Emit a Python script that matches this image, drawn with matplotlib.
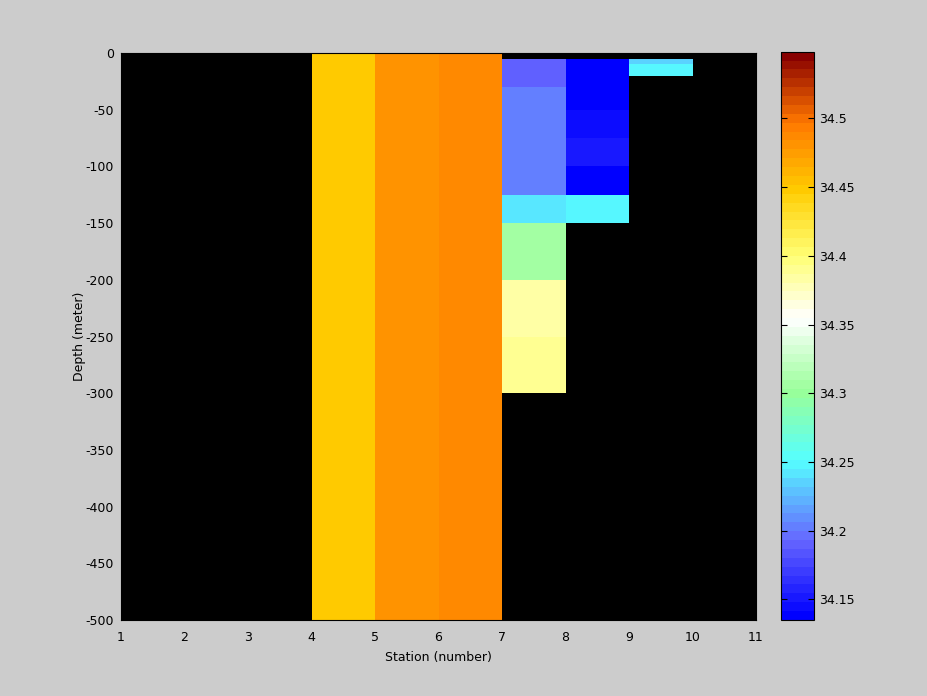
import numpy as np
import matplotlib
matplotlib.use("Agg")
import matplotlib.pyplot as plt
from matplotlib.colors import LinearSegmentedColormap, ListedColormap, Normalize

# station edges and depth edges (meters)
station_edges = [1, 2, 3, 4, 5, 6, 7, 8, 9, 10, 11]
depth_edges = [0, -5, -10, -20, -30, -50, -75, -100, -125, -150, -200, -250, -300, -400, -500]

nan = np.nan
# salinity per station column, one value per depth cell (top to bottom)
st1 = [nan] * 14
st2 = [nan] * 14
st3 = [nan] * 14
st4 = [34.447] * 14
st5 = [34.481] * 14
st6 = [34.488] * 14
st7 = [nan, 34.19, 34.19, 34.19, 34.20, 34.20, 34.20, 34.20, 34.239, 34.309, 34.386, 34.389, nan, nan]
st8 = [nan, 34.140, 34.140, 34.140, 34.140, 34.146, 34.153, 34.136, 34.25, nan, nan, nan, nan, nan]
st9 = [nan, 34.234, 34.25, nan, nan, nan, nan, nan, nan, nan, nan, nan, nan, nan]
st10 = [nan] * 14

clim = (34.135, 34.5485)
cbar_ticks = [34.15, 34.2, 34.25, 34.3, 34.35, 34.4, 34.45, 34.5]

# colormap anchors (value, colour)
anchors = [
    (34.135, "#0000ff"),
    (34.19, "#6666ff"),
    (34.25, "#55ffff"),
    (34.30, "#99ff99"),
    (34.355, "#ffffff"),
    (34.40, "#ffff77"),
    (34.45, "#ffcc00"),
    (34.50, "#ff7800"),
    (34.5485, "#880000"),
]

pos = [(v - clim[0]) / (clim[1] - clim[0]) for v, c in anchors]
pos[0], pos[-1] = 0.0, 1.0
smooth = LinearSegmentedColormap.from_list("sal", list(zip(pos, [c for v, c in anchors])))
cmap = ListedColormap(smooth(np.linspace(0, 1, 64)))
cmap.set_bad("black")

C = np.ma.masked_invalid(np.array([st1, st2, st3, st4, st5, st6, st7, st8, st9, st10]).T)

bg = "#cccccc"
plt.rcParams["font.family"] = ["DejaVu Sans"]
plt.rcParams["axes.unicode_minus"] = False
fig = plt.figure(figsize=(9.28, 6.96), dpi=100, facecolor=bg)
fs = 9

ax = fig.add_axes([121 / 928, 1 - 620 / 696, 635 / 928, 567 / 696])
ax.set_facecolor("black")
mesh = ax.pcolormesh(station_edges, depth_edges, C, cmap=cmap,
                     norm=Normalize(*clim), shading="flat")
ax.set_xlim(1, 11)
ax.set_ylim(-500, 0)
ax.set_xticks(station_edges)
ax.set_yticks(np.arange(-500, 1, 50))
ax.tick_params(axis="x", length=0, pad=8, labelsize=fs)
ax.tick_params(axis="y", length=0, pad=5, labelsize=fs)
ax.set_xlabel("Station (number)", fontsize=fs, labelpad=5)
ax.set_ylabel("Depth (meter)", fontsize=fs, labelpad=0)
for s in ax.spines.values():
    s.set_color("black")

cax = fig.add_axes([781.5 / 928, 1 - 620 / 696, 32.5 / 928, 568.3 / 696])
cb = fig.colorbar(mesh, cax=cax, ticks=cbar_ticks)
cb.ax.set_yticklabels(["%g" % t for t in cbar_ticks])
cb.ax.tick_params(direction="in", length=4, labelsize=fs, left=True, right=True)
cb.outline.set_edgecolor("black")

fig.savefig("out.png", dpi=100, facecolor=bg)
